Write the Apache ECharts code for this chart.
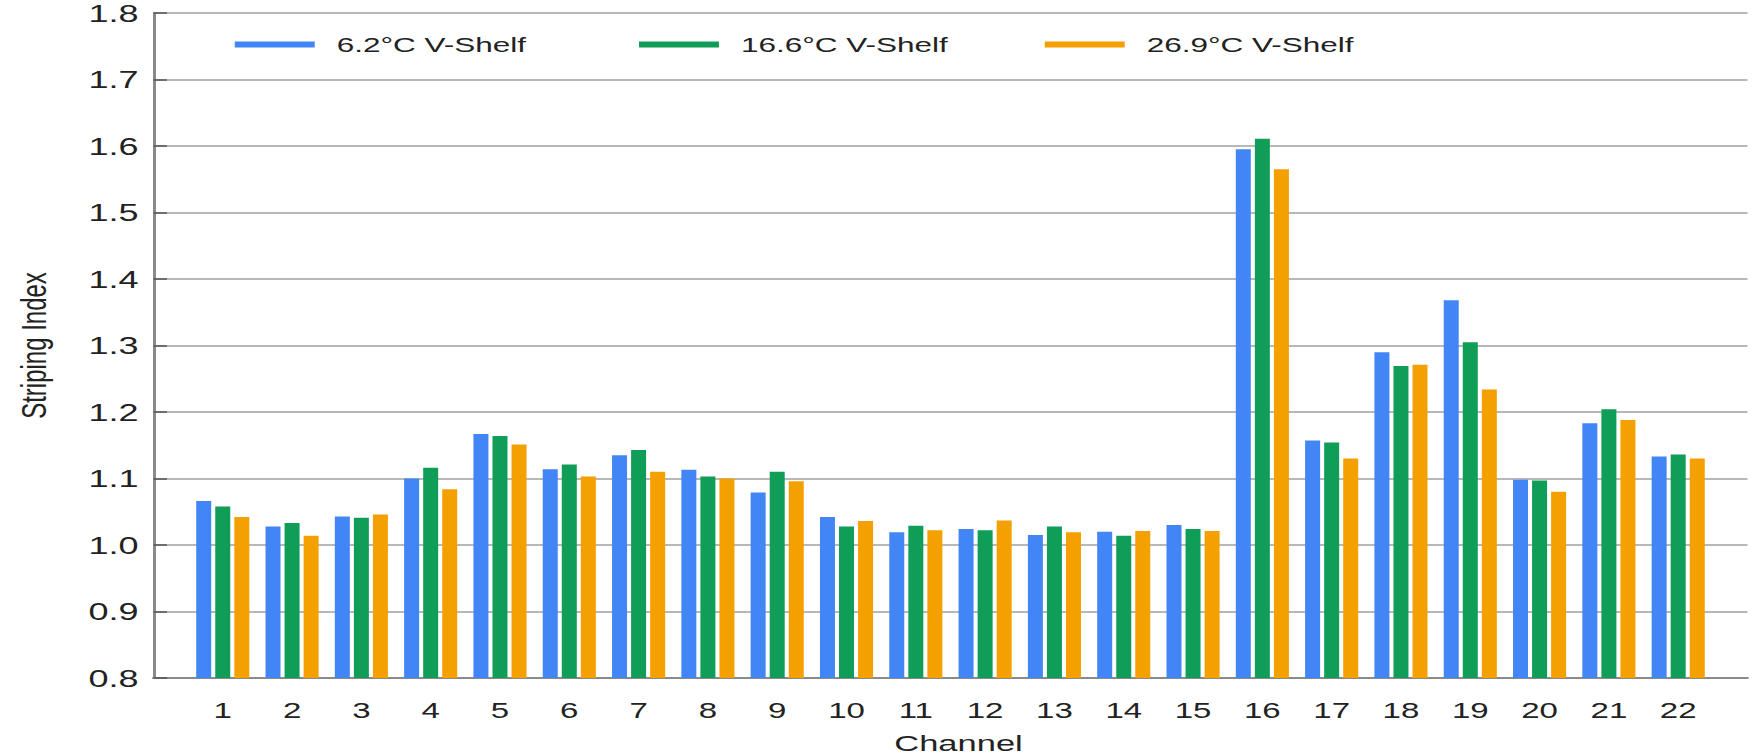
<!DOCTYPE html>
<html>
<head>
<meta charset="utf-8">
<script src="https://cdn.jsdelivr.net/npm/echarts@6/dist/echarts.min.js"></script>
<style>
html,body{margin:0;padding:0;background:#fff;overflow:hidden;width:1752px;height:754px;}
/* the reference picture is stretched horizontally; reproduce that stretch */
#chart{width:1168px;height:754px;transform:scaleX(1.5);transform-origin:0 0;}
</style>
</head>
<body>
<div id="chart"></div>
<script>
const channels = ['1','2','3','4','5','6','7','8','9','10','11','12','13','14','15','16','17','18','19','20','21','22'];
const seriesNames = ['6.2°C V-Shelf', '16.6°C V-Shelf', '26.9°C V-Shelf'];
const shelf62 = [1.066,1.028,1.043,1.100,1.167,1.114,1.135,1.113,1.079,1.042,1.019,1.024,1.015,1.020,1.030,1.595,1.157,1.290,1.368,1.098,1.183,1.133];
const shelf166 = [1.058,1.033,1.041,1.116,1.164,1.121,1.143,1.103,1.110,1.028,1.029,1.022,1.028,1.014,1.024,1.611,1.154,1.269,1.305,1.097,1.204,1.136];
const shelf269 = [1.042,1.014,1.046,1.084,1.151,1.103,1.110,1.100,1.096,1.036,1.022,1.037,1.019,1.021,1.021,1.565,1.130,1.271,1.234,1.080,1.188,1.130];
const yTicks = [0.8,0.9,1.0,1.1,1.2,1.3,1.4,1.5,1.6,1.7,1.8];

const colors = ['#4285F4', '#0F9D58', '#F4A000'];
const FONT = '"Liberation Sans", Arial, Helvetica, sans-serif';

// pad one empty slot on each side so channel i sits at axis position i
const axisCats = [''].concat(channels, ['']);
function pad(arr){ return [null].concat(arr, [null]); }
const allData = [shelf62, shelf166, shelf269];

const chart = echarts.init(document.getElementById('chart'), null, {renderer:'svg'});
const legendLefts = [151.5, 421, 691.5];
const option = {
  animation: false,
  backgroundColor: '#fff',
  grid: { left: 102.3, right: -12.3, top: 13, bottom: 76, containLabel: false },
  legend: seriesNames.map((n, i) => ({
    data: [n],
    left: legendLefts[i],
    top: 29,
    icon: 'rect',
    itemWidth: 53.3,
    itemHeight: 6,
    selectedMode: false,
    textStyle: { fontFamily: FONT, fontSize: 21, color: '#222', padding: [0,0,0,9.7] }
  })),
  title: {
    text: 'Channel', left: 634, top: 726, textAlign: 'center',
    textStyle: { fontFamily: FONT, fontSize: 23, fontWeight: 'normal', color: '#222' }
  },
  xAxis: {
    type: 'category',
    data: axisCats,
    boundaryGap: false,
    axisLine: { show: true, lineStyle: { color: '#8a8a8a', width: 2 } },
    axisTick: { show: false },
    splitLine: { show: false },
    axisLabel: { interval: 0, margin: 22, fontFamily: FONT, fontSize: 22, color: '#222' }
  },
  yAxis: {
    type: 'value',
    min: 0.8, max: 1.8, interval: 0.1,
    name: 'Striping Index',
    nameLocation: 'middle',
    nameRotate: 90,
    nameGap: 68,
    nameTextStyle: { fontFamily: FONT, fontSize: 24, color: '#222' },
    axisLine: { show: true, lineStyle: { color: '#8a8a8a', width: 2 } },
    axisTick: { show: true, inside: true, length: 9, lineStyle: { color: '#555', width: 1.5 } },
    splitLine: { show: true, lineStyle: { color: '#a0a0a0', width: 1.5 } },
    axisLabel: {
      margin: 10, fontFamily: FONT, fontSize: 24, color: '#222',
      formatter: v => { const t = yTicks.find(x => Math.abs(x - v) < 1e-6); return t !== undefined ? t.toFixed(1) : ''; }
    }
  },
  series: seriesNames.map((n, i) => ({
    name: n,
    type: 'bar',
    data: pad(allData[i]),
    barWidth: 10,
    barGap: '27%',
    itemStyle: { color: colors[i] }
  }))
};
chart.setOption(option);
</script>
</body>
</html>
